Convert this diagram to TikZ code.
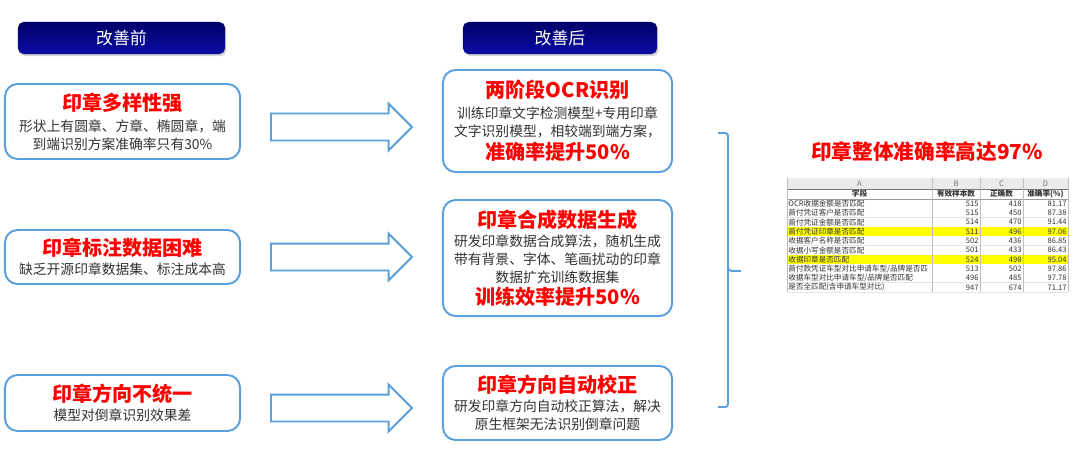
\documentclass[tikz,border=0pt]{standalone}
\usepackage{fontspec}
\setmainfont{Noto Sans CJK SC}
\usetikzlibrary{positioning, shapes.arrows, shadows}

\definecolor{boxblue}{RGB}{91,160,220}
\definecolor{navytop}{RGB}{0,0,105}
\definecolor{navybot}{RGB}{12,12,165}
\definecolor{bodygray}{RGB}{50,50,50}
\definecolor{hlyellow}{RGB}{255,255,0}

\tikzset{
  head/.style={rounded corners=4pt, top color=navytop, bottom color=navybot,
    text=white, minimum height=0.8cm, font=\fontsize{12}{14}\selectfont,
    drop shadow={shadow xshift=1pt, shadow yshift=-1.5pt, fill=black!35}},
  card/.style={draw=boxblue, line width=1.4pt, rounded corners=9pt, fill=white,
    align=center, text=bodygray, font=\fontsize{9.8}{12.8}\selectfont, inner sep=0pt},
  bigarrow/.style={single arrow, draw=boxblue, line width=1.4pt, minimum height=3.525cm,
    inner xsep=0pt, inner ysep=0.3125cm, single arrow head extend=0.25cm, anchor=tail},
  cell/.style={font=\fontsize{5.4}{6}\selectfont, text=black!80, inner sep=0.8pt},
}
\newcommand{\ttl}[1]{{\color{red}\fontsize{14.3}{17}\selectfont\bfseries #1}}

\begin{document}
\begin{tikzpicture}[x=0.025cm, y=-0.025cm]
  \useasboundingbox (0,0) rectangle (1080,454);

  % headers
  \node[head, minimum width=5.175cm] (hpre) at (121.5,38) {改善前};
  \node[head, minimum width=4.85cm] (hpost) at (560,38) {改善后};

  % before
  \node[card, minimum width=5.875cm, minimum height=1.875cm] (pre1) at (122.5,121.5)
    {\ttl{印章多样性强}\\[2pt]形状上有圆章、方章、椭圆章，端\\到端识别方案准确率只有30\%};
  \node[card, minimum width=5.875cm, minimum height=1.35cm] (pre2) at (122.5,257)
    {\ttl{印章标注数据困难}\\[1pt]缺乏开源印章数据集、标注成本高};
  \node[card, minimum width=5.875cm, minimum height=1.4cm] (pre3) at (122.5,403)
    {\ttl{印章方向不统一}\\[1pt]模型对倒章识别效果差};

  % after
  \node[card, minimum width=5.725cm, minimum height=2.55cm] (post1) at (557.5,121)
    {\ttl{两阶段OCR识别}\\[2pt]训练印章文字检测模型+专用印章\\文字识别模型，相较端到端方案，\\[2pt]\ttl{准确率提升50\%}};
  \node[card, minimum width=5.725cm, minimum height=2.9cm] (post2) at (557.5,258)
    {\ttl{印章合成数据生成}\\[1pt]研发印章数据合成算法，随机生成\\带有背景、字体、笔画扰动的印章\\数据扩充训练数据集\\[1pt]\ttl{训练效率提升50\%}};
  \node[card, minimum width=5.725cm, minimum height=1.85cm] (post3) at (557.5,403)
    {\ttl{印章方向自动校正}\\[1pt]研发印章方向自动校正算法，解决\\原生框架无法识别倒章问题};

  % arrows
  \node[bigarrow] (a1) at (270,127) {};
  \node[bigarrow] (a2) at (270,257) {};
  \node[bigarrow] (a3) at (270,408) {};

  % brace
  \coordinate (btop) at (718,133);
  \coordinate (bbot) at (718,407);
  \coordinate (btip) at (741,271);
  \draw[boxblue, line width=1.4pt, rounded corners=2pt] (btop) -- (728,133) -- (728,407) -- (bbot);
  \draw[boxblue, line width=1.4pt, rounded corners=2pt] (728,268) -- (729,271) -- (btip);

  \node[font=\fontsize{14.7}{17}\selectfont\bfseries, text=red] (res) at (927,152) {印章整体准确率高达97\%};

  % result table
  \fill[black!8] (787,178) rectangle (1068,189);
  \foreach \f/\n/\c/\r/\bg [count=\i] in {
      OCR收据金额是否匹配/515/418/81.17/white,
      首付凭证客户是否匹配/515/450/87.38/white,
      首付凭证金额是否匹配/514/470/91.44/white,
      首付凭证印章是否匹配/511/496/97.06/hlyellow,
      收据客户名称是否匹配/502/436/86.85/white,
      收据小写金额是否匹配/501/433/86.43/white,
      收据印章是否匹配/524/498/95.04/hlyellow,
      {首付款凭证车型对比申请车型/品牌是否匹}/513/502/97.86/white,
      {收据车型对比申请车型/品牌是否匹配}/496/485/97.78/white,
      是否全匹配(含申请车型对比)/947/674/71.17/white}{
    \pgfmathsetmacro\ytop{199+9.3*(\i-1)}
    \pgfmathsetmacro\ymid{199+9.3*(\i-0.5)}
    \fill[\bg] (787,\ytop) rectangle (1068,\ytop+9.3);
    \draw[black!10] (787,\ytop+9.3) -- (1068,\ytop+9.3);
    \node[cell, anchor=west] (f\i) at (787,\ymid) {\f};
    \node[cell, anchor=east] (n\i) at (980,\ymid) {\n};
    \node[cell, anchor=east] (c\i) at (1023,\ymid) {\c};
    \node[cell, anchor=east] (r\i) at (1068,\ymid) {\r};
  }
  \foreach \x/\l [count=\j] in {859.5/A, 956/B, 1001.5/C, 1045.5/D}
    \node[cell, text=black!55] (col\j) at (\x,183.5) {\l};
  \foreach \x/\l [count=\j] in {859.5/字段, 956/有效样本数, 1001.5/正确数, 1045.5/准确率(\%)}
    \node[cell, font=\fontsize{5.4}{6}\selectfont\bfseries] (hd\j) at (\x,194) {\l};
  \draw[black!55] (787,189) -- (1068,189);
  \draw[black!40] (787,199) -- (1068,199);
  \foreach \x in {787, 932, 980, 1023, 1068}
    \draw[black!25] (\x,178) -- (\x,292);
\end{tikzpicture}
\end{document}
